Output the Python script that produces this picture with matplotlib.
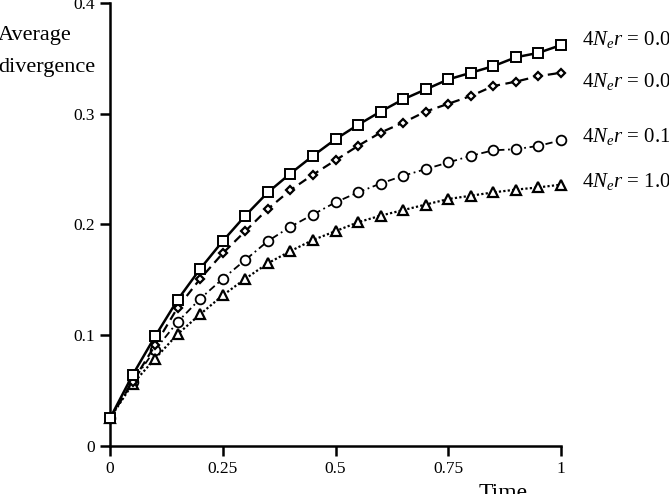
import matplotlib
matplotlib.use('Agg')
import matplotlib.pyplot as plt

plt.rcParams['font.family'] = ['Liberation Serif', 'DejaVu Serif']
plt.rcParams['mathtext.fontset'] = 'custom'
plt.rcParams['mathtext.rm'] = 'Liberation Serif'
plt.rcParams['mathtext.it'] = 'Liberation Serif:italic'

time = [0, 0.05, 0.1, 0.15, 0.2, 0.25, 0.3, 0.35, 0.4, 0.45, 0.5,
        0.55, 0.6, 0.65, 0.7, 0.75, 0.8, 0.85, 0.9, 0.95, 1.0]

div_r0001 = [0.025, 0.064, 0.099, 0.132, 0.160, 0.185, 0.208, 0.229, 0.246, 0.262, 0.277,
             0.290, 0.302, 0.313, 0.322, 0.331, 0.337, 0.343, 0.351, 0.355, 0.362]
div_r001 = [0.025, 0.058, 0.091, 0.125, 0.151, 0.174, 0.194, 0.214, 0.231, 0.245, 0.258,
            0.271, 0.283, 0.292, 0.302, 0.309, 0.316, 0.325, 0.329, 0.334, 0.337]
div_r01 = [0.025, 0.058, 0.087, 0.112, 0.133, 0.151, 0.168, 0.185, 0.198, 0.209, 0.220,
           0.229, 0.237, 0.244, 0.250, 0.256, 0.262, 0.267, 0.268, 0.271, 0.276]
div_r1 = [0.025, 0.056, 0.079, 0.101, 0.119, 0.136, 0.151, 0.165, 0.176, 0.186, 0.194,
          0.202, 0.208, 0.213, 0.218, 0.223, 0.226, 0.229, 0.2315, 0.2335, 0.236]

labels = [r'$4N_{e}r$ = 0.001', r'$4N_{e}r$ = 0.01', r'$4N_{e}r$ = 0.1', r'$4N_{e}r$ = 1.0']
label_y = [0.362, 0.324, 0.2745, 0.234]

fig = plt.figure(figsize=(6.69, 4.94), dpi=100)
ax = fig.add_axes([110/669, 48/494, 451/669, 443/494])

ax.plot(time, div_r0001, color='black', lw=1.8, ls='-', marker='s', ms=7.5,
        mfc='white', mec='black', mew=1.4, clip_on=False, zorder=5)
ax.plot(time, div_r001, color='black', lw=1.6, ls=(0, (4, 2.5)), marker='D', ms=4.2,
        mfc='white', mec='black', mew=1.6, clip_on=False, zorder=4)
ax.plot(time, div_r01, color='black', lw=1.3, ls=(0, (4, 2, 1, 2)), marker='o', ms=7,
        mfc='white', mec='black', mew=1.3, clip_on=False, zorder=3)
ax.plot(time, div_r1, color='black', lw=1.6, ls=(0, (1, 1)), marker='^', ms=6.5,
        mfc='white', mec='black', mew=1.6, clip_on=False, zorder=3)

# labels run past the right edge, as in the original
for lab, yv in zip(labels, label_y):
    ax.text(1.046, yv, lab, fontsize=15, va='baseline', ha='left', clip_on=False)

ax.set_xlim(0, 1)
ax.set_ylim(0, 0.4)
ax.set_xticks([0, 0.25, 0.5, 0.75, 1])
ax.set_xticklabels(['0', '0.25', '0.5', '0.75', '1'])
ax.set_yticks([0, 0.1, 0.2, 0.3, 0.4])
ax.set_yticklabels(['0', '0.1', '0.2', '0.3', '0.4'])

for s in ['top', 'right']:
    ax.spines[s].set_visible(False)
for s in ['left', 'bottom']:
    ax.spines[s].set_linewidth(1.8)
ax.tick_params(direction='out', length=7, width=1.8, labelsize=12.5, pad=4)

fig.text(-0.003, 1 - 40/494, 'Average', fontsize=16, ha='left', va='baseline')
fig.text(-0.003, 1 - 72/494, 'divergence', fontsize=16, ha='left', va='baseline')
fig.text(503/669, -0.010, 'Time', fontsize=17, ha='center', va='baseline')

fig.savefig('out.png', dpi=100)
